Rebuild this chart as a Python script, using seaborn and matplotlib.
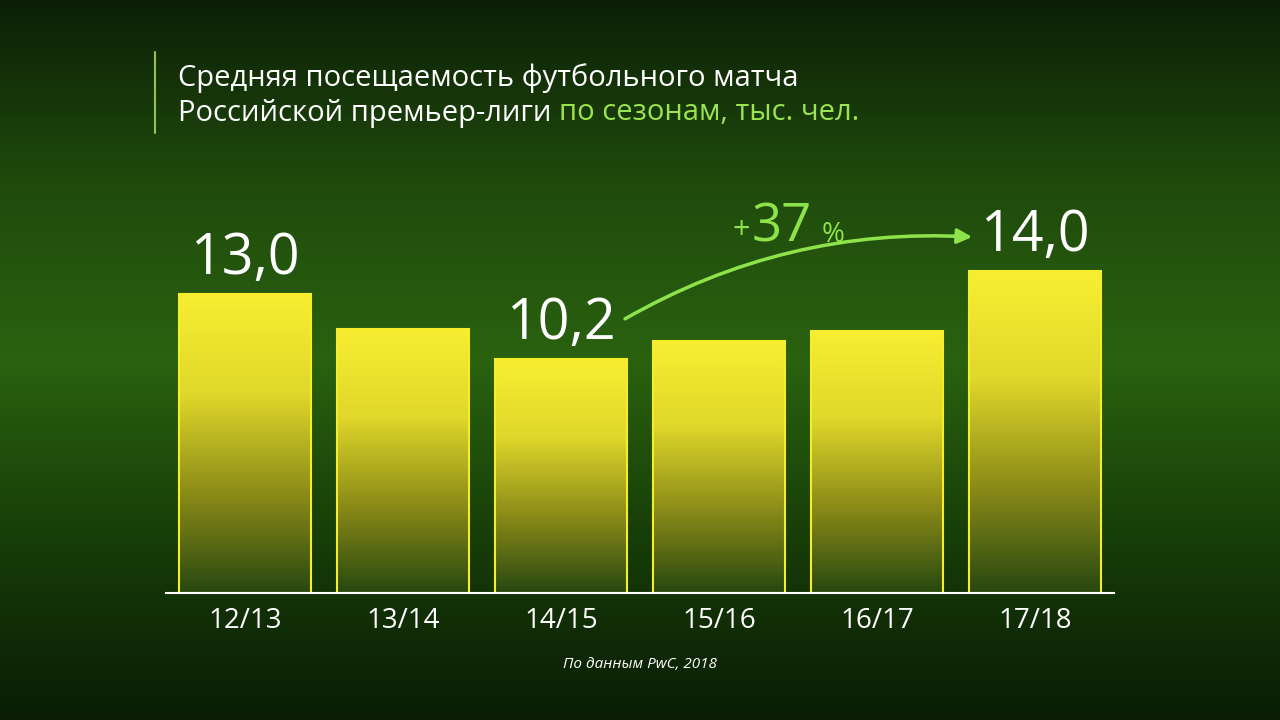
import numpy as np
import matplotlib
matplotlib.use('Agg')
import matplotlib.pyplot as plt
import seaborn as sns
from matplotlib.colors import LinearSegmentedColormap

seasons = ['12/13', '13/14', '14/15', '15/16', '16/17', '17/18']
attendance = [13.0, 11.5, 10.2, 10.95, 11.4, 14.0]
labelled = {0: '13,0', 2: '10,2', 5: '14,0'}

sns.set_style('white')
plt.rcParams['font.family'] = ['Open Sans', 'DejaVu Sans']

fig = plt.figure(figsize=(12.8, 7.2), dpi=100)

# Background gradient
bg = fig.add_axes([0, 0, 1, 1])
bg_cmap = LinearSegmentedColormap.from_list('bg', ['#0c1f06', '#1f4a0c', '#2a6210', '#173d08', '#0a1c05'])
grad = np.linspace(0, 1, 256).reshape(-1, 1)
bg.imshow(grad, aspect='auto', cmap=bg_cmap, extent=[0, 1, 0, 1])
bg.axis('off')

ax = fig.add_axes([166 / 1280, 0.176, 948 / 1280, 0.639])
ax.set_facecolor('none')
sns.barplot(x=seasons, y=attendance, ax=ax, width=0.835, color='#f2e530',
            edgecolor='#f7ec2a', linewidth=1.5)

bar_cmap = LinearSegmentedColormap.from_list('bar', ['#284810', '#8c8c18', '#e0d82a', '#f8ee32'])
for p in ax.patches:
    x0, y0 = p.get_x(), p.get_y()
    im = ax.imshow(grad, aspect='auto', cmap=bar_cmap, origin='lower',
                   extent=[x0, x0 + p.get_width(), y0, y0 + p.get_height()], zorder=1)
    im.set_clip_path(p)
    p.set_facecolor('none')
    p.set_zorder(2)
ax.set_xlim(-0.5, 5.5)
ax.set_ylim(0, 20)

for i, txt in labelled.items():
    ax.text(i, attendance[i] + 0.25, txt, ha='center', va='bottom', color='white', fontsize=40)

ax.annotate('', xy=(4.62, 15.48), xytext=(2.39, 11.87),
            arrowprops=dict(arrowstyle='-|>', color='#8fe34a', lw=2.5,
                            connectionstyle='arc3,rad=-0.15', mutation_scale=22))

green = '#8fe34a'
base_y = 1 - 242 / 720
fig.text(732 / 1280, base_y + 0.004, '+', color=green, fontsize=22, va='baseline')
fig.text(752 / 1280, base_y, '37', color=green, fontsize=38, va='baseline')
fig.text(822 / 1280, base_y, '%', color=green, fontsize=20, va='baseline')

sns.despine(ax=ax, left=True)
ax.spines['bottom'].set_color('white')
ax.spines['bottom'].set_linewidth(1.5)
ax.set_yticks([])
ax.tick_params(axis='x', colors='white', labelsize=20, length=0, pad=10)

fig.add_artist(plt.Line2D([155 / 1280, 155 / 1280], [1 - 52 / 720, 1 - 133 / 720],
                          color='#8fc35a', lw=1.5))
fig.text(178 / 1280, 1 - 78 / 720, 'Средняя посещаемость футбольного матча',
         color='white', fontsize=21, va='center')
t = fig.text(178 / 1280, 1 - 113 / 720, 'Российской премьер-лиги ',
             color='white', fontsize=21, va='center')
fig.canvas.draw()
bb = t.get_window_extent()
fig.text(bb.x1 / 1280, 1 - 113 / 720, 'по сезонам, тыс. чел.',
         color='#9be351', fontsize=21, va='center')
fig.text(640 / 1280, 1 - 665 / 720, 'По данным PwC, 2018', color='white',
         fontsize=11, style='italic', ha='center', va='center')

fig.savefig('out.png', dpi=100)
